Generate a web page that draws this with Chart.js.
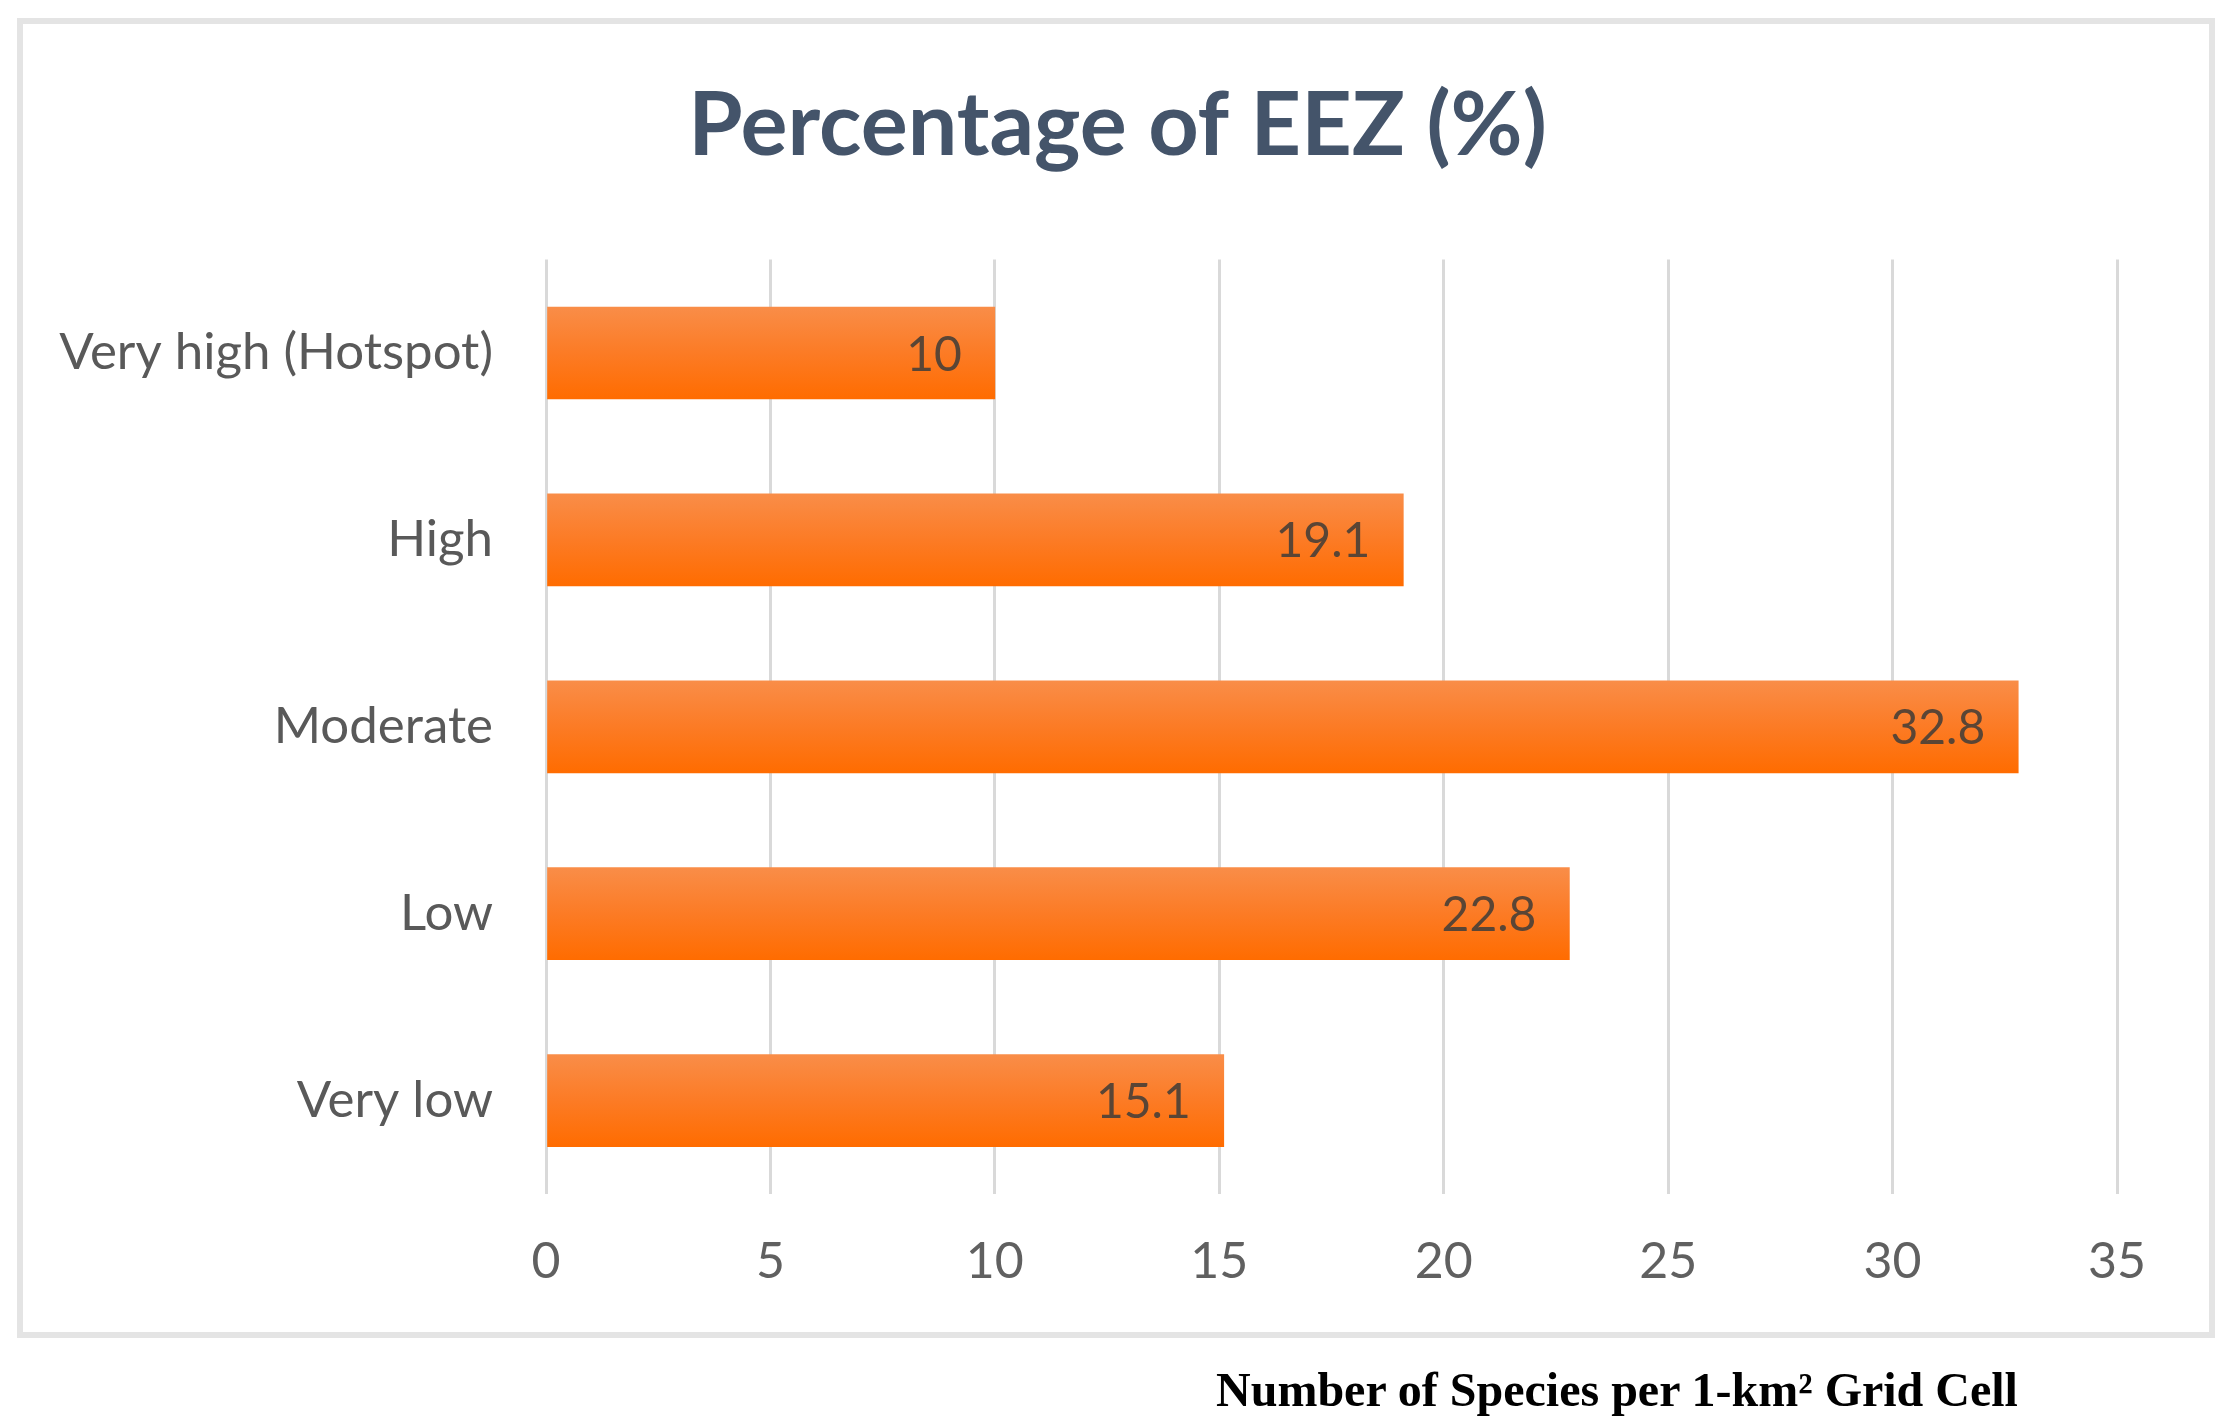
<!doctype html>
<html lang="en">
  <head>
    <meta charset="utf-8">
    <title>Percentage of EEZ (%)</title>
    <style>
      * {
        margin: 0;
        padding: 0;
      }
      body {
        width: 2235px;
        height: 1422px;
        background: white;
        position: relative;
        overflow: hidden;
      }
      .frame {
        position: absolute;
        left: 17px;
        top: 18px;
        width: 2198px;
        height: 1320px;
        box-sizing: border-box;
        border: 6px solid #E4E4E4;
      }
      .chartBox {
        position: absolute;
        left: 0;
        top: 0;
        width: 2235px;
        height: 1422px;
      }
      .caption {
        position: absolute;
        left: 1117px;
        width: 1000px;
        top: 1361px;
        text-align: center;
        font-family: "Liberation Serif", "Times New Roman", serif;
        font-weight: bold;
        font-size: 48px;
        line-height: 58px;
        color: #000;
        white-space: nowrap;
      }
    </style>
  </head>
  <body>
    <div class="frame"></div>
    <div class="chartBox">
      <canvas id="myChart" width="2235" height="1422"></canvas>
    </div>
    <div class="caption">Number of Species per 1-km² Grid Cell</div>

    <script src="https://cdn.jsdelivr.net/npm/chart.js"></script>
    <script>
    // data
    const categories = ['Very high (Hotspot)', 'High', 'Moderate', 'Low', 'Very low'];
    const percentValues = [10, 19.1, 32.8, 22.8, 15.1];
    const xTicks = [0, 5, 10, 15, 20, 25, 30, 35];

    const BAR_HALF = 46;

    // vertical orange gradient for each bar
    function barFill(c) {
      const chart = c.chart;
      const yScale = chart.scales.y;
      if (!yScale || c.dataIndex === undefined) return '#FC7A22';
      const cy = yScale.getPixelForValue(c.dataIndex);
      if (!isFinite(cy)) return '#FC7A22';
      const g = chart.ctx.createLinearGradient(0, cy - BAR_HALF, 0, cy + BAR_HALF);
      g.addColorStop(0, '#F98D48');
      g.addColorStop(0.5, '#FC7B25');
      g.addColorStop(1, '#FF6C00');
      return g;
    }

    // value labels inside the bar end
    const valueLabels = {
      id: 'valueLabels',
      afterDatasetsDraw(chart) {
        const ctx = chart.ctx;
        const meta = chart.getDatasetMeta(0);
        ctx.save();
        ctx.font = '48px Lato';
        ctx.fillStyle = '#5A4535';
        ctx.textAlign = 'right';
        ctx.textBaseline = 'middle';
        meta.data.forEach((bar, i) => {
          ctx.fillText(String(percentValues[i]), bar.x - 33, bar.y + 2);
        });
        ctx.restore();
      }
    };

    const data = {
      labels: categories,
      datasets: [{
        label: 'Percentage of EEZ (%)',
        data: percentValues,
        backgroundColor: barFill,
        borderWidth: 0,
        barThickness: BAR_HALF * 2
      }]
    };

    const config = {
      type: 'bar',
      data,
      options: {
        indexAxis: 'y',
        responsive: false,
        animation: false,
        layout: {
          padding: 0
        },
        plugins: {
          legend: { display: false },
          tooltip: { enabled: false },
          title: {
            display: true,
            text: 'Percentage of EEZ (%)',
            color: '#44546A',
            font: { family: 'Lato', size: 88, weight: 'bold', lineHeight: 1.2 },
            padding: { top: 74, bottom: 80 }
          }
        },
        scales: {
          x: {
            min: xTicks[0],
            max: xTicks[xTicks.length - 1],
            afterBuildTicks(scale) {
              scale.ticks = xTicks.map(v => ({ value: v }));
            },
            afterFit(scale) {
              scale.height = 228;
            },
            grid: {
              color: '#D9D9D9',
              lineWidth: 3,
              drawTicks: false
            },
            border: { display: false },
            ticks: {
              color: '#606060',
              font: { family: 'Lato', size: 50, lineHeight: 1.2 },
              padding: 38
            }
          },
          y: {
            afterFit(scale) {
              scale.width = 546;
            },
            grid: { display: false, drawTicks: false },
            border: { display: false },
            ticks: {
              color: '#595959',
              font: { family: 'Lato', size: 51, lineHeight: 1.2 },
              padding: 53
            }
          },
          // empty right-hand gutter so the title stays centred on the whole frame
          gutter: {
            type: 'linear',
            axis: 'y',
            position: 'right',
            afterFit(scale) {
              scale.width = 118;
            },
            grid: { display: false, drawTicks: false },
            border: { display: false },
            ticks: { display: false }
          }
        }
      },
      plugins: [valueLabels]
    };

    const myChart = new Chart(
      document.getElementById('myChart'),
      config
    );
    </script>
  </body>
</html>
